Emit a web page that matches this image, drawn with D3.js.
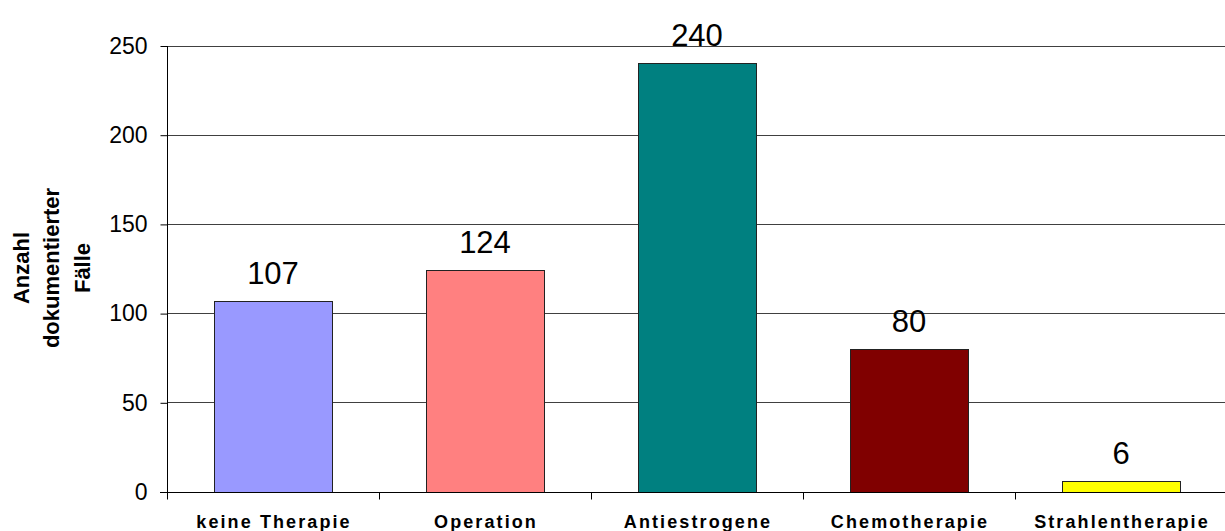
<!DOCTYPE html>
<html>
<head>
<meta charset="utf-8">
<script src="https://cdn.jsdelivr.net/npm/d3@7"></script>
<style>
  html, body { margin: 0; padding: 0; background: #fff; }
  svg { display: block; font-family: Arial, "Liberation Sans", sans-serif; }
</style>
</head>
<body>
<svg id="chart" width="1225" height="531"></svg>
<script>
// Therapy categories and documented case counts
const categories = ["keine Therapie", "Operation", "Antiestrogene", "Chemotherapie", "Strahlentherapie"];
const values = [107, 124, 240, 80, 6];
const colors = ["#9999FF", "#FF8080", "#008080", "#800000", "#FFFF00"];
const yTicks = [0, 50, 100, 150, 200, 250];
const yTitle = ["Anzahl", "dokumentierter", "Fälle"];

const svg = d3.select("#chart");
const plotLeft = 167, plotRight = 1227, plotTop = 45.5, plotBottom = 491.5;

const x = d3.scaleBand()
  .domain(categories)
  .range([plotLeft, plotRight])
  .paddingInner(0.4434)
  .paddingOuter(0.2217);

const xSlot = d3.scaleBand().domain(categories).range([plotLeft, plotRight]).padding(0);

const y = d3.scaleLinear().domain([0, 250]).range([plotBottom, plotTop]);

// horizontal gridlines
svg.append("g")
  .selectAll("line")
  .data(yTicks.filter(d => d > 0))
  .join("line")
  .attr("x1", plotLeft).attr("x2", plotRight)
  .attr("y1", d => Math.round(y(d)) + 0.5).attr("y2", d => Math.round(y(d)) + 0.5)
  .attr("stroke", "#404040").attr("stroke-width", 1);

// bars
svg.append("g")
  .selectAll("rect")
  .data(values)
  .join("rect")
  .attr("x", (d, i) => Math.round(x(categories[i])) + 0.5)
  .attr("y", d => Math.round(y(d)) + 0.5)
  .attr("width", Math.round(x.bandwidth()))
  .attr("height", d => Math.round(y(0)) - Math.round(y(d)))
  .attr("fill", (d, i) => colors[i])
  .attr("stroke", "#222").attr("stroke-width", 1);

// value labels
svg.append("g")
  .selectAll("text")
  .data(values)
  .join("text")
  .attr("x", (d, i) => x(categories[i]) + x.bandwidth() / 2)
  .attr("y", d => y(d) - 17)
  .attr("text-anchor", "middle")
  .attr("font-size", 31)
  .attr("fill", "#000")
  .text(d => d);

// y axis
const yAxis = d3.axisLeft(y).tickValues(yTicks).tickSize(7).tickPadding(13);
const gy = svg.append("g")
  .attr("transform", `translate(${plotLeft + 0.5},0.5)`)
  .call(yAxis);
gy.select(".domain").attr("d", `M0,${plotTop}V${plotBottom + 6}`).attr("stroke", "#000");
gy.selectAll(".tick line").attr("stroke", "#000");
gy.selectAll(".tick text").attr("font-size", 23).attr("fill", "#000")
  .attr("font-family", "Arial, 'Liberation Sans', sans-serif");

// x axis with tick marks on category boundaries
const gx = svg.append("g").attr("transform", `translate(0,${Math.round(plotBottom) + 0.5})`);
gx.append("line").attr("x1", plotLeft - 7).attr("x2", plotRight).attr("stroke", "#000");
gx.selectAll("line.tk")
  .data(categories)
  .join("line")
  .attr("class", "tk")
  .attr("x1", d => Math.round(xSlot(d)) + 0.5).attr("x2", d => Math.round(xSlot(d)) + 0.5)
  .attr("y1", 0).attr("y2", 7)
  .attr("stroke", "#000");
gx.selectAll("text")
  .data(categories)
  .join("text")
  .attr("x", d => xSlot(d) + xSlot.bandwidth() / 2 + 1)
  .attr("y", 35)
  .attr("text-anchor", "middle")
  .attr("font-size", 18)
  .attr("font-weight", "bold")
  .attr("letter-spacing", "2.1px")
  .attr("fill", "#000")
  .text(d => d);

// y axis title (three rotated lines)
const yt = svg.append("text")
  .attr("transform", "translate(21,268) rotate(-90)")
  .attr("text-anchor", "middle")
  .attr("font-size", 22)
  .attr("font-weight", "bold")
  .attr("fill", "#000");
yt.selectAll("tspan")
  .data(yTitle)
  .join("tspan")
  .attr("x", 0)
  .attr("dy", (d, i) => i === 0 ? "0.35em" : "30.5")
  .text(d => d);
</script>
</body>
</html>
